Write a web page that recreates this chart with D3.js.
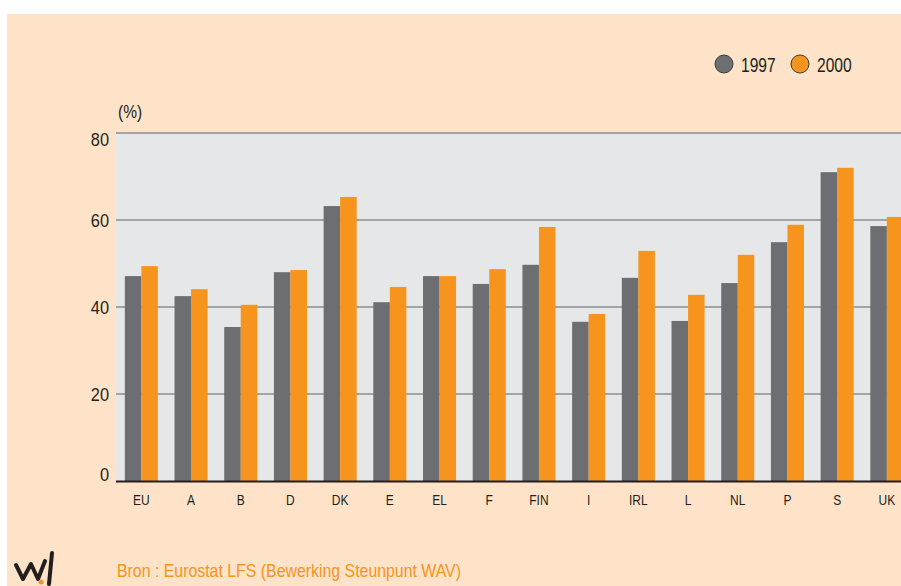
<!DOCTYPE html>
<html>
<head>
<meta charset="utf-8">
<script src="https://cdn.jsdelivr.net/npm/d3@7"></script>
<style>
  body { margin: 0; background: #fff; }
  svg text { font-family: "Liberation Sans", Arial, sans-serif; }
</style>
</head>
<body>
<div id="chart"></div>
<script>
// data
const countries = ['EU', 'A', 'B', 'D', 'DK', 'E', 'EL', 'F', 'FIN', 'I', 'IRL', 'L', 'NL', 'P', 'S', 'UK'];
const years = ['1997', '2000'];
const values1997 = [47.1, 42.5, 35.4, 48.0, 63.2, 41.1, 47.1, 45.3, 49.7, 36.6, 46.7, 36.8, 45.5, 54.9, 71.0, 58.6];
const values2000 = [49.4, 44.1, 40.5, 48.5, 65.3, 44.6, 47.1, 48.7, 58.4, 38.4, 52.9, 42.8, 52.0, 58.9, 72.0, 60.7];
const yTicks = [0, 20, 40, 60, 80];

const colors = { '1997': '#6d6e71', '2000': '#f7941d' };
const w = 901, h = 586;

const rows = countries.map((c, i) => ({ country: c, '1997': values1997[i], '2000': values2000[i] }));

/* condensed look: squeeze glyphs horizontally */
const condense = (sel, f) => sel.each(function () {
  const len = this.getComputedTextLength();
  d3.select(this).attr('textLength', len * f).attr('lengthAdjust', 'spacingAndGlyphs');
});

const svg = d3.select('#chart').append('svg')
  .attr('width', w)
  .attr('height', h);

/* peach background */
svg.append('rect')
  .attr('x', 7).attr('y', 14)
  .attr('width', w - 7).attr('height', h - 14)
  .attr('fill', '#fee3c8');

/* scales */
const x = d3.scaleBand()
  .domain(countries)
  .range([116.5, 911.7])
  .paddingInner(0.335)
  .paddingOuter(0.1675);

const xSub = d3.scaleBand()
  .domain(years)
  .range([0, x.bandwidth()]);

const y = d3.scaleLinear()
  .domain([0, 80])
  .range([481, 133]);

/* plot area */
svg.append('rect')
  .attr('x', 116).attr('y', y(80))
  .attr('width', w - 116).attr('height', y(0) - y(80))
  .attr('fill', '#e6e7e8');

/* gridlines */
svg.append('g')
  .selectAll('line')
  .data(yTicks.filter(d => d > 0))
  .join('line')
  .attr('x1', 116).attr('x2', w)
  .attr('y1', d => y(d)).attr('y2', d => y(d))
  .attr('stroke', '#a2a3a5')
  .attr('stroke-width', 2);

/* bars */
svg.append('g')
  .selectAll('g')
  .data(rows)
  .join('g')
  .attr('transform', d => `translate(${x(d.country)},0)`)
  .selectAll('rect')
  .data(d => years.map(k => ({ key: k, value: d[k] })))
  .join('rect')
  .attr('x', d => xSub(d.key))
  .attr('y', d => y(d.value))
  .attr('width', xSub.bandwidth())
  .attr('height', d => y(0) - y(d.value))
  .attr('fill', d => colors[d.key]);

/* y axis labels (end labels pulled inward, as in the original) */
const yAxis = d3.axisLeft(y).tickValues(yTicks).tickSize(0).tickPadding(0);
const gy = svg.append('g')
  .attr('transform', 'translate(109,0)')
  .call(yAxis);
gy.select('.domain').remove();
gy.selectAll('text')
  .attr('font-size', 19)
  .attr('fill', '#231f20')
  .attr('dy', '0.35em')
  .attr('y', d => d === 80 ? 6 : d === 0 ? -7 : 0)
  .call(condense, 0.86);

/* x axis */
const xAxis = d3.axisBottom(x).tickSize(0).tickPadding(13);
const gx = svg.append('g')
  .attr('transform', `translate(0,${y(0)})`)
  .call(xAxis);
gx.select('.domain').remove();
gx.selectAll('text')
  .attr('font-size', 15)
  .attr('fill', '#231f20')
  .call(condense, 0.8);

svg.append('line')
  .attr('x1', 116).attr('x2', w)
  .attr('y1', y(0) + 0.5).attr('y2', y(0) + 0.5)
  .attr('stroke', '#231f20')
  .attr('stroke-width', 2);

/* unit */
svg.append('text')
  .attr('x', 118).attr('y', 118)
  .attr('font-size', 18)
  .attr('fill', '#231f20')
  .text('(%)')
  .call(condense, 0.86);

/* legend */
const legend = svg.append('g')
  .selectAll('g')
  .data(years)
  .join('g')
  .attr('transform', (d, i) => `translate(${724 + i * 76},64)`);
legend.append('circle')
  .attr('r', 9)
  .attr('fill', d => colors[d])
  .attr('stroke', '#3a3a3a')
  .attr('stroke-width', 1);
legend.append('text')
  .attr('x', 17).attr('y', 7.5)
  .attr('font-size', 20)
  .attr('fill', '#231f20')
  .text(d => d)
  .call(condense, 0.78);

/* source */
svg.append('text')
  .attr('x', 117).attr('y', 577)
  .attr('font-size', 19)
  .attr('fill', '#f7941d')
  .text('Bron : Eurostat LFS (Bewerking Steunpunt WAV)')
  .attr('textLength', 344)
  .attr('lengthAdjust', 'spacingAndGlyphs');

/* logo */
const logo = svg.append('g');
logo.append('path')
  .attr('d', 'M16,565 L23,579 L31,564 L38,579 L45,561 M52,553 L49,584')
  .attr('fill', 'none')
  .attr('stroke', '#231f20')
  .attr('stroke-width', 4)
  .attr('stroke-linecap', 'round')
  .attr('stroke-linejoin', 'round');
logo.append('circle')
  .attr('cx', 41).attr('cy', 582).attr('r', 2.5)
  .attr('fill', '#f7941d');
</script>
</body>
</html>
